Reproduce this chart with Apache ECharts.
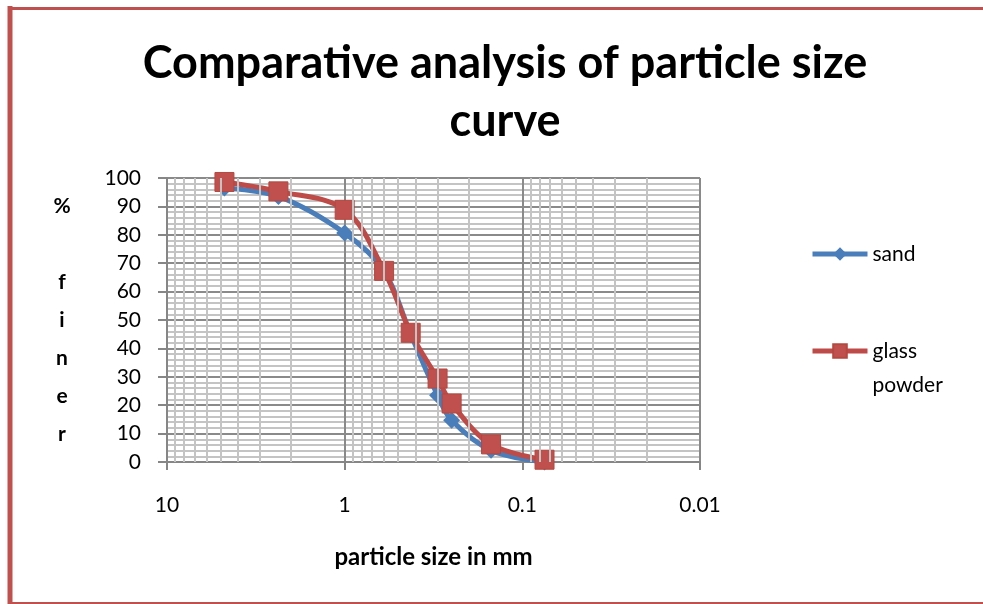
<!DOCTYPE html>
<html><head><meta charset="utf-8">
<script src="https://cdn.jsdelivr.net/npm/echarts@6/dist/echarts.min.js"></script>
<style>html,body{margin:0;padding:0;background:#fff}#c{width:983px;height:604px}</style>
</head><body><div id="c"></div>
<script>
// particle size (mm)
const sizes = [4.75, 2.36, 1.0, 0.6, 0.425, 0.3, 0.25, 0.15, 0.075];
// % finer
const sand = [96.5, 93.5, 80.6, 67.3, 45.0, 23.5, 14.7, 4.1, 0.0];
const glass = [98.6, 95.3, 88.8, 67.3, 45.5, 29.4, 20.6, 6.2, 0.8];
const seriesNames = ['sand', 'glass powder'];
const titleText = 'Comparative analysis of particle size\ncurve';
const xName = 'particle size in mm';
const yName = '%\n\nf\ni\nn\ne\nr';
// minor log gridlines
const minorX = [2,3,4,5,6,7,8,9, 0.2,0.3,0.4,0.5,0.6,0.7,0.8,0.9, 0.02,0.03,0.04,0.05,0.06,0.07,0.08,0.09];

const FONT = 'Lato, "Open Sans", sans-serif';
const chart = echarts.init(document.getElementById('c'), null, {renderer: 'canvas'});
const pts = arr => sizes.map((s, i) => [s, arr[i]]);

chart.setOption({
  backgroundColor: '#fff',
  animation: false,
  title: {
    text: titleText, left: 500, top: 29, textAlign: 'center',
    textStyle: {fontFamily: FONT, fontSize: 45, fontWeight: 'bold', color: '#000', lineHeight: 58}
  },
  graphic: [
    {type: 'line', shape: {x1: 10, y1: 6, x2: 10, y2: 604}, style: {stroke: '#C0504D', lineWidth: 5}, z: 100},
    {type: 'line', shape: {x1: 8, y1: 8.5, x2: 983, y2: 8.5}, style: {stroke: '#C0504D', lineWidth: 3}, z: 100},
    {type: 'line', shape: {x1: 8, y1: 603, x2: 983, y2: 603}, style: {stroke: '#C0504D', lineWidth: 2}, z: 100}
  ],
  legend: {
    orient: 'vertical', left: 810, top: 237, padding: 0,
    itemWidth: 55, itemHeight: 17, itemGap: 29,
    lineStyle: {width: 5},
    textStyle: {fontFamily: FONT, fontSize: 21, color: '#000', lineHeight: 34},
    data: [{name: 'sand'}, {name: 'glass powder'}],
    formatter: n => n === 'glass powder' ? '\u00a0\nglass\npowder' : n
  },
  grid: {left: 167, right: 283, top: 178, bottom: 142, containLabel: false},
  xAxis: {
    type: 'log', logBase: 10, min: 0.01, max: 10, inverse: true,
    name: xName, nameLocation: 'middle', nameGap: 83,
    nameTextStyle: {fontFamily: FONT, fontSize: 24, fontWeight: 'bold', color: '#000'},
    axisLine: {show: true, lineStyle: {color: '#868686', width: 2}},
    axisTick: {show: true, length: 8, lineStyle: {color: '#868686', width: 2}},
    axisLabel: {fontFamily: FONT, fontSize: 21, color: '#000', margin: 33,
      formatter: v => String(+v.toPrecision(3))},
    splitLine: {show: true, lineStyle: {color: '#8a8a8a', width: 2}}
  },
  yAxis: {
    type: 'value', min: 0, max: 100, interval: 10,
    name: yName, nameLocation: 'middle', nameGap: 105, nameRotate: 0,
    nameTextStyle: {fontFamily: FONT, fontSize: 21, fontWeight: 'bold', color: '#000', lineHeight: 38, align: 'center', padding: [20, 0, 0, 0]},
    axisLine: {show: true, lineStyle: {color: '#868686', width: 2}},
    axisTick: {show: true, length: 9, lineStyle: {color: '#868686', width: 2}},
    axisLabel: {fontFamily: FONT, fontSize: 21, color: '#000', margin: 26},
    splitLine: {show: true, lineStyle: {color: '#8a8a8a', width: 2}},
    minorTick: {show: false, splitNumber: 5},
    minorSplitLine: {show: true, lineStyle: {color: '#c4c4c4', width: 2}}
  },
  series: [
    {
      type: 'line', name: '_grid', data: [], z: 1, silent: true, legendHoverLink: false,
      markLine: {
        silent: true, symbol: ['none', 'none'], label: {show: false}, animation: false,
        lineStyle: {color: '#c4c4c4', width: 2, type: 'solid'},
        data: minorX.map(v => ({xAxis: v}))
      }
    },
    {
      type: 'line', name: seriesNames[0], data: pts(sand), smooth: 0.35,
      symbol: 'diamond', symbolSize: 17, z: 3,
      lineStyle: {color: '#4A7EBB', width: 5},
      itemStyle: {color: '#4A7EBB'}
    },
    {
      type: 'line', name: seriesNames[1], data: pts(glass), smooth: 0.35,
      symbol: 'rect', symbolSize: 19, z: 4,
      lineStyle: {color: '#BE4B48', width: 5},
      itemStyle: {color: '#C0504D', borderColor: '#B5473F', borderWidth: 1}
    }
  ]
});
</script></body></html>
